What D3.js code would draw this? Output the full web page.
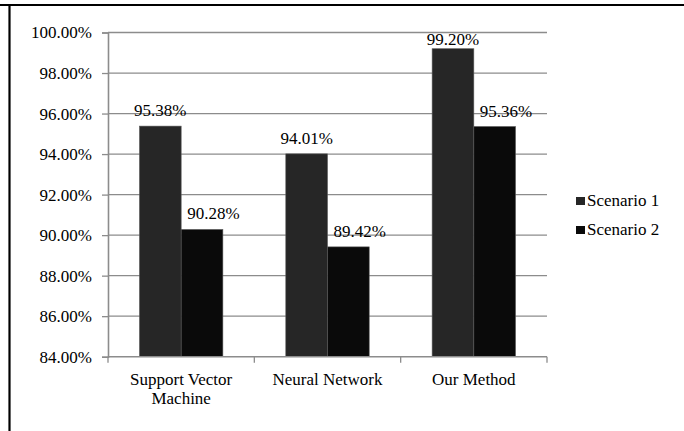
<!DOCTYPE html>
<html>
<head>
<meta charset="utf-8">
<script src="https://cdn.jsdelivr.net/npm/d3@7"></script>
<style>
  html, body { margin: 0; padding: 0; background: #fff; }
  svg { display: block; }
</style>
</head>
<body>
<svg id="chart" width="684" height="431"></svg>
<script>
// Accuracy per method for the two scenarios
const categories = [["Support Vector", "Machine"], ["Neural Network"], ["Our Method"]];
const seriesNames = ["Scenario 1", "Scenario 2"];
const scenario1 = [95.38, 94.01, 99.20];
const scenario2 = [90.28, 89.42, 95.36];
const yTicks = [84, 86, 88, 90, 92, 94, 96, 98, 100];
const colors = ["#262626", "#0a0a0a"];

const FONT = "font-family:'Liberation Serif';font-size:17px;fill:#000";

const svg = d3.select("#chart");
const W = 684, H = 431;
const plot = { left: 108, right: 547, top: 32.5, bottom: 356.7 };

// Frame (top and left edges)
svg.append("line").attr("x1", 0).attr("x2", W).attr("y1", 5).attr("y2", 5)
  .attr("stroke", "#000").attr("stroke-width", 2.2);
svg.append("line").attr("x1", 9.5).attr("x2", 9.5).attr("y1", 4).attr("y2", H)
  .attr("stroke", "#000").attr("stroke-width", 2.2);

const y = d3.scaleLinear().domain([84, 100]).range([plot.bottom, plot.top]);
const x = d3.scaleBand().domain(d3.range(categories.length))
  .range([plot.left, plot.right]).paddingInner(0.43).paddingOuter(0.215);
const xs = d3.scaleBand().domain(d3.range(seriesNames.length)).range([0, x.bandwidth()]);

// Gridlines
svg.append("g").selectAll("line").data(yTicks.slice(1)).join("line")
  .attr("x1", plot.left).attr("x2", plot.right)
  .attr("y1", d => y(d)).attr("y2", d => y(d))
  .attr("stroke", "#8c8c8c").attr("stroke-width", 1.3);

// Y axis
const yAxis = svg.append("g").attr("transform", `translate(${plot.left},0)`)
  .call(d3.axisLeft(y).tickValues(yTicks).tickSize(6).tickPadding(10)
    .tickFormat(d => d.toFixed(2) + "%"));
yAxis.attr("font-family", null).attr("font-size", null);
yAxis.select(".domain").attr("stroke", "#8c8c8c").attr("stroke-width", 1.6);
yAxis.selectAll(".tick line").attr("stroke", "#8c8c8c").attr("stroke-width", 1.3);
yAxis.selectAll(".tick text").attr("style", FONT);

// Bars with value labels; labels stay inside the plot area, and the
// second series' labels start just inside their bar to clear the taller neighbour
const data = [scenario1, scenario2];
data.forEach((vals, si) => {
  const g = svg.append("g");
  g.selectAll("rect").data(vals).join("rect")
    .attr("x", (d, i) => x(i) + xs(si))
    .attr("width", xs.bandwidth())
    .attr("y", d => y(d))
    .attr("height", d => plot.bottom - y(d))
    .attr("fill", colors[si])
    .attr("stroke", "#5a5a5a").attr("stroke-width", 0.6);
  g.selectAll("text").data(vals).join("text")
    .attr("x", (d, i) => si === 0 ? x(i) + xs(si) + xs.bandwidth() / 2 : x(i) + xs(si) + 6)
    .attr("y", d => Math.max(y(d) - 10, plot.top + 12.5))
    .attr("text-anchor", si === 0 ? "middle" : "start").attr("style", FONT)
    .text(d => d.toFixed(2) + "%");
});

// X axis
const step = (plot.right - plot.left) / categories.length;
svg.append("line").attr("x1", plot.left).attr("x2", plot.right)
  .attr("y1", plot.bottom).attr("y2", plot.bottom)
  .attr("stroke", "#8c8c8c").attr("stroke-width", 1.6);
svg.append("g").selectAll("line").data(d3.range(categories.length + 1)).join("line")
  .attr("x1", i => plot.left + i * step).attr("x2", i => plot.left + i * step)
  .attr("y1", plot.bottom).attr("y2", plot.bottom + 6)
  .attr("stroke", "#8c8c8c").attr("stroke-width", 1.3);
const xl = svg.append("g").selectAll("text").data(categories).join("text")
  .attr("x", (d, i) => x(i) + x.bandwidth() / 2)
  .attr("y", 385).attr("text-anchor", "middle").attr("style", FONT);
xl.each(function(lines, i) {
  d3.select(this).selectAll("tspan").data(lines).join("tspan")
    .attr("x", x(i) + x.bandwidth() / 2)
    .attr("dy", (d, j) => j === 0 ? 0 : 18.5)
    .text(d => d);
});

// Legend
const legend = svg.append("g");
seriesNames.forEach((name, i) => {
  const ly = 206 + i * 29;
  legend.append("rect").attr("x", 576).attr("y", ly - 9).attr("width", 9).attr("height", 8)
    .attr("fill", colors[i]);
  legend.append("text").attr("x", 587).attr("y", ly).attr("style", FONT).text(name);
});
</script>
</body>
</html>
